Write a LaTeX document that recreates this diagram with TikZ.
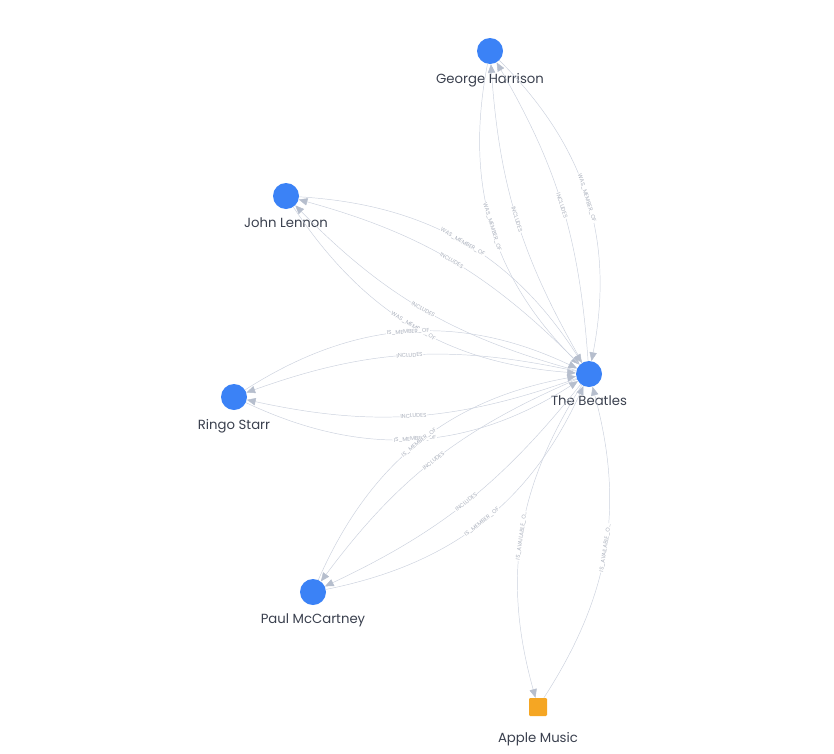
\documentclass[tikz,border=0pt]{standalone}
\usepackage{fontspec}
\setmainfont{Poppins}
\usetikzlibrary{arrows.meta, positioning}

\definecolor{nodeblue}{RGB}{59,130,246}
\definecolor{appleorange}{RGB}{245,166,35}
\definecolor{edgegray}{RGB}{203,209,221}
\definecolor{tipgray}{RGB}{182,190,205}
\definecolor{taggray}{RGB}{172,178,190}
\definecolor{namegray}{RGB}{58,64,78}

\tikzset{
    person/.style={circle, fill=nodeblue, minimum size=0.78cm, inner sep=0pt,
        label={[namegray, font=\fontsize{11.3}{13}\selectfont, label distance=0.14cm]below:#1}},
    service/.style={rectangle, rounded corners=1pt, fill=appleorange, minimum size=0.54cm, inner sep=0pt,
        label={[namegray, font=\fontsize{11.3}{13}\selectfont, label distance=0.36cm]below:#1}},
    rel/.style={draw=edgegray, line width=0.4pt, -{Triangle[length=2.6mm, width=2.2mm, color=tipgray]}},
    tag/.style={sloped, midway, fill=white, inner sep=0.6pt, text=taggray, font=\fontsize{4.8}{5}\selectfont}
}

\begin{document}
\begin{tikzpicture}[x=0.03cm, y=-0.03cm]
        \useasboundingbox (0,0) rectangle (834,754);

        % Nodes
        \node[person=George Harrison] (george) at (490,51) {};
        \node[person=John Lennon] (john) at (286,196) {};
        \node[person=Ringo Starr] (ringo) at (234,397) {};
        \node[person=Paul McCartney] (paul) at (313,592) {};
        \node[person=The Beatles] (beatles) at (589,374) {};
        \node[service=Apple Music] (apple) at (538,707) {};

        % George Harrison
        \draw[rel] (george) to[bend left=28] node[tag] {WAS\_MEMBER\_OF} (beatles);
        \draw[rel] (george) to[bend right=28] node[tag] {WAS\_MEMBER\_OF} (beatles);
        \draw[rel] (beatles) to[bend left=13] node[tag] {INCLUDES} (george);
        \draw[rel] (beatles) to[bend right=13] node[tag] {INCLUDES} (george);

        % John Lennon
        \draw[rel] (john) to[bend left=27] node[tag] {WAS\_MEMBER\_OF} (beatles);
        \draw[rel] (john) to[bend right=26] node[tag] {WAS\_MEMBER\_OF} (beatles);
        \draw[rel] (beatles) to[bend left=15] node[tag] {INCLUDES} (john);
        \draw[rel] (beatles) to[bend right=15] node[tag] {INCLUDES} (john);

        % Ringo Starr
        \draw[rel] (ringo) to[bend left=29] node[tag] {IS\_MEMBER\_OF} (beatles);
        \draw[rel] (ringo) to[bend right=29] node[tag] {IS\_MEMBER\_OF} (beatles);
        \draw[rel] (beatles) to[bend left=16] node[tag] {INCLUDES} (ringo);
        \draw[rel] (beatles) to[bend right=16] node[tag] {INCLUDES} (ringo);

        % Paul McCartney
        \draw[rel] (paul) to[bend left=28] node[tag] {IS\_MEMBER\_OF} (beatles);
        \draw[rel] (paul) to[bend right=27] node[tag] {IS\_MEMBER\_OF} (beatles);
        \draw[rel] (beatles) to[bend left=13] node[tag] {INCLUDES} (paul);
        \draw[rel] (beatles) to[bend right=15] node[tag] {INCLUDES} (paul);

        % Apple Music
        \draw[rel] (beatles) to[bend right=24] node[tag] {IS\_AVAILABLE\_O...} (apple);
        \draw[rel] (apple) to[bend right=24] node[tag] {IS\_AVAILABLE\_O...} (beatles);
\end{tikzpicture}
\end{document}
